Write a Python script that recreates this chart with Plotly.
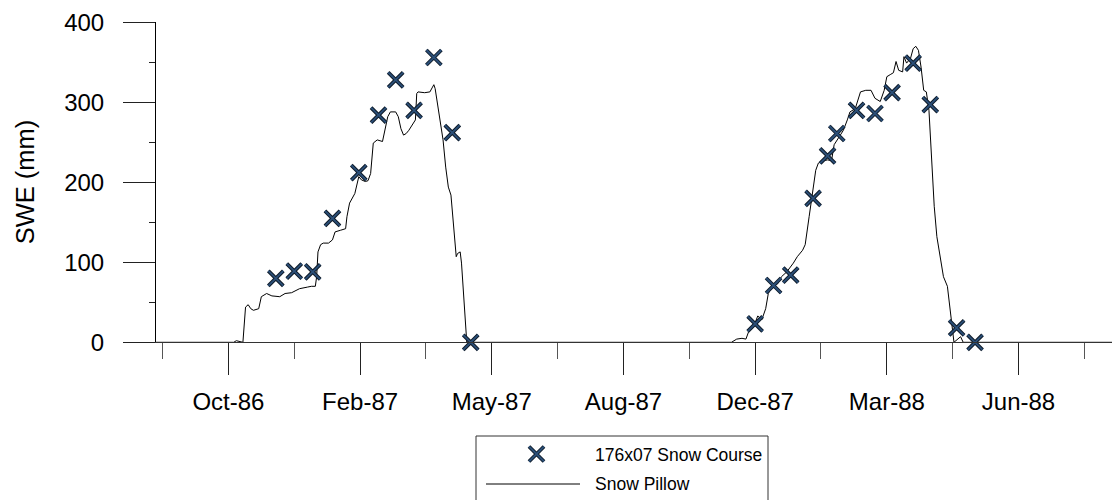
import plotly.graph_objects as go

# ---- data -------------------------------------------------------------
# 176x07 snow course surveys: date and SWE (mm)
course_dates = [
    "1986-12-04", "1986-12-18", "1987-01-01", "1987-01-16", "1987-02-05",
    "1987-02-20", "1987-03-05", "1987-03-19", "1987-04-03", "1987-04-17",
    "1987-05-01",
    "1987-12-03", "1987-12-17", "1987-12-30", "1988-01-16", "1988-01-27",
    "1988-02-03", "1988-02-18", "1988-03-03", "1988-03-16", "1988-04-01",
    "1988-04-14", "1988-05-04", "1988-05-18",
]
course_swe = [
    80, 89, 88, 155, 212,
    284, 328, 290, 356, 262,
    0,
    23, 71, 84, 180, 233,
    261, 290, 286, 312, 349,
    297, 18, 0,
]

# Snow pillow record: dates and SWE (mm)
pillow_dates = [
    "1986-09-04", "1986-11-02", "1986-11-04", "1986-11-07", "1986-11-09",
    "1986-11-11", "1986-11-13", "1986-11-15", "1986-11-17", "1986-11-21",
    "1986-11-23", "1986-11-27", "1986-12-01", "1986-12-07", "1986-12-11",
    "1986-12-16", "1986-12-19", "1986-12-22", "1986-12-28", "1986-12-31",
    "1987-01-03", "1987-01-04", "1987-01-05", "1987-01-07", "1987-01-09",
    "1987-01-13", "1987-01-16", "1987-01-18", "1987-01-22", "1987-01-26",
    "1987-01-27", "1987-01-29", "1987-02-02", "1987-02-05", "1987-02-07",
    "1987-02-10", "1987-02-12", "1987-02-14", "1987-02-16", "1987-02-19",
    "1987-02-23", "1987-02-25", "1987-02-27", "1987-03-01", "1987-03-05",
    "1987-03-07", "1987-03-09", "1987-03-11", "1987-03-13", "1987-03-15",
    "1987-03-17", "1987-03-20", "1987-03-21", "1987-03-22", "1987-03-27",
    "1987-03-31", "1987-04-02", "1987-04-03", "1987-04-04", "1987-04-07",
    "1987-04-10", "1987-04-12", "1987-04-14", "1987-04-16", "1987-04-18",
    "1987-04-20", "1987-04-21", "1987-04-23", "1987-04-24", "1987-04-26",
    "1987-04-28",
    "1987-11-15", "1987-11-19", "1987-11-23", "1987-11-26", "1987-11-28",
    "1987-12-02", "1987-12-05", "1987-12-08", "1987-12-11", "1987-12-13",
    "1987-12-16", "1987-12-20", "1987-12-23", "1987-12-27", "1988-01-01",
    "1988-01-04", "1988-01-08", "1988-01-10", "1988-01-13", "1988-01-15",
    "1988-01-18", "1988-01-20", "1988-01-24", "1988-01-27", "1988-01-30",
    "1988-02-01", "1988-02-05", "1988-02-08", "1988-02-11", "1988-02-13",
    "1988-02-17", "1988-02-21", "1988-02-25", "1988-02-29", "1988-03-03",
    "1988-03-07", "1988-03-10", "1988-03-12", "1988-03-15", "1988-03-17",
    "1988-03-19", "1988-03-21", "1988-03-24", "1988-03-25", "1988-03-27",
    "1988-03-30", "1988-04-01", "1988-04-03", "1988-04-05", "1988-04-06",
    "1988-04-07", "1988-04-09", "1988-04-11", "1988-04-13", "1988-04-15",
    "1988-04-17", "1988-04-19", "1988-04-22", "1988-04-24", "1988-04-27",
    "1988-04-28", "1988-04-30", "1988-05-02", "1988-05-07", "1988-05-09",
    "1988-08-30",
]
pillow_swe = [
    0, 0, 2, 1, 0,
    44, 47, 42, 40, 42,
    57, 61, 58, 57, 61,
    62, 65, 67, 69, 70,
    70, 82, 113, 122, 124,
    124, 128, 138, 140, 142,
    157, 174, 186, 207, 203,
    201, 202, 211, 249, 253,
    251, 265, 282, 288, 288,
    282, 267, 259, 261, 265,
    270, 278, 311, 313, 312,
    313, 319, 322, 317, 286,
    253, 219, 194, 184, 149,
    107, 111, 113, 99, 49,
    0,
    0, 4, 5, 4, 13,
    20, 33, 28, 42, 61,
    70, 73, 82, 88, 99,
    107, 115, 122, 157, 182,
    215, 224, 227, 228, 227,
    247, 257, 265, 278, 288,
    292, 313, 315, 315, 305,
    301, 315, 332, 335, 337,
    351, 340, 338, 357, 349,
    355, 367, 370, 365, 355,
    344, 315, 313, 290, 224,
    170, 132, 103, 82, 70,
    57, 24, 0, 7, 0,
    0,
]

# Axis ticks
x_major_ticks = ["1986-10-29", "1987-02-06", "1987-05-17", "1987-08-25",
                 "1987-12-03", "1988-03-12", "1988-06-20"]
x_major_labels = ["Oct-86", "Feb-87", "May-87", "Aug-87",
                  "Dec-87", "Mar-88", "Jun-88"]
x_minor_ticks = ["1986-09-09", "1986-12-18", "1987-03-28", "1987-07-06",
                 "1987-10-14", "1988-01-22", "1988-05-01", "1988-08-09"]
x_range = ["1986-09-04", "1988-08-30"]
y_major_ticks = [0, 100, 200, 300, 400]
y_minor_ticks = [50, 150, 250, 350]
y_range = [0, 400]

y_title = "SWE (mm)"
legend_labels = ["176x07 Snow Course", "Snow Pillow"]

# ---- layout geometry (pixels) ----------------------------------------
W, H = 1112, 500
PLOT_L, PLOT_T, PLOT_B = 156, 22.3, 342.3
FONT = "Liberation Sans, Arial, sans-serif"
MARK_OUTER = "#0f1b29"
MARK_INNER = "#2b4f78"
MARK_SIZE = 15
MARK_STROKES = ((MARK_OUTER, 3.8), (MARK_INNER, 1.8))


def px(x):
    return x / W


def py(y):
    return 1 - y / H


fig = go.Figure()

fig.add_trace(go.Scatter(
    x=pillow_dates, y=pillow_swe, mode="lines",
    line=dict(color="black", width=1), name=legend_labels[1],
    showlegend=False,
))

# Crosses drawn twice: a dark outline stroke under a lighter core stroke
for color, width in MARK_STROKES:
    fig.add_trace(go.Scatter(
        x=course_dates, y=course_swe, mode="markers",
        marker=dict(symbol="x-thin", size=MARK_SIZE,
                    line=dict(color=color, width=width)),
        cliponaxis=False, name=legend_labels[0], showlegend=False,
    ))

# Legend key cross on a full-figure pixel overlay
for color, width in MARK_STROKES:
    fig.add_trace(go.Scatter(
        x=[536.5], y=[454], mode="markers", xaxis="x2", yaxis="y2",
        marker=dict(symbol="x-thin", size=MARK_SIZE,
                    line=dict(color=color, width=width)),
        cliponaxis=False, showlegend=False, hoverinfo="skip",
    ))

tickfont = dict(family=FONT, size=24, color="black")

fig.update_layout(
    width=W, height=H, autosize=False,
    margin=dict(l=0, r=0, t=0, b=0),
    paper_bgcolor="white", plot_bgcolor="rgba(0,0,0,0)",
    showlegend=False,
    xaxis=dict(
        type="date", domain=[px(PLOT_L), 1], range=x_range, anchor="y",
        tickmode="array", tickvals=x_major_ticks, ticktext=x_major_labels,
        ticks="outside", ticklen=32, tickwidth=1, tickcolor="#222",
        showline=True, linecolor="#333", linewidth=1,
        showgrid=False, zeroline=False, tickfont=tickfont,
        ticklabelstandoff=6, automargin=False,
        minor=dict(tickmode="array", tickvals=x_minor_ticks, ticks="outside",
                   ticklen=16, tickwidth=1, tickcolor="#555", showgrid=False),
    ),
    yaxis=dict(
        domain=[py(PLOT_B), py(PLOT_T)], range=y_range, anchor="x",
        tickmode="array", tickvals=y_major_ticks,
        ticks="outside", ticklen=32, tickwidth=1, tickcolor="#222",
        showline=True, linecolor="black", linewidth=1,
        showgrid=False, zeroline=False, tickfont=tickfont,
        ticklabelstandoff=14, automargin=False,
        minor=dict(tickmode="array", tickvals=y_minor_ticks, ticks="outside",
                   ticklen=6, tickwidth=1, tickcolor="#222", showgrid=False),
    ),
    xaxis2=dict(domain=[0, 1], range=[0, W], anchor="y2", visible=False,
                fixedrange=True),
    yaxis2=dict(domain=[0, 1], range=[H, 0], anchor="x2", visible=False,
                fixedrange=True),
)

# Y axis title
fig.add_annotation(
    text=y_title, xref="paper", yref="paper", x=px(25),
    y=py((PLOT_T + PLOT_B) / 2), textangle=-90, showarrow=False,
    xanchor="center", yanchor="middle",
    font=dict(family=FONT, size=25.5, color="black"),
)

# Legend box, line key and labels
fig.add_shape(type="rect", xref="paper", yref="paper",
              x0=px(476), x1=px(768), y0=py(436), y1=py(520),
              line=dict(color="#333", width=1), fillcolor="rgba(0,0,0,0)")
fig.add_shape(type="line", xref="paper", yref="paper",
              x0=px(486), x1=px(580), y0=py(484), y1=py(484),
              line=dict(color="black", width=1))
for label, ypix in zip(legend_labels, (455, 484)):
    fig.add_annotation(
        text=label, xref="paper", yref="paper", x=px(593), y=py(ypix),
        xanchor="left", yanchor="middle", showarrow=False,
        font=dict(family=FONT, size=17.5, color="black"),
    )

fig.write_html("out.html")
